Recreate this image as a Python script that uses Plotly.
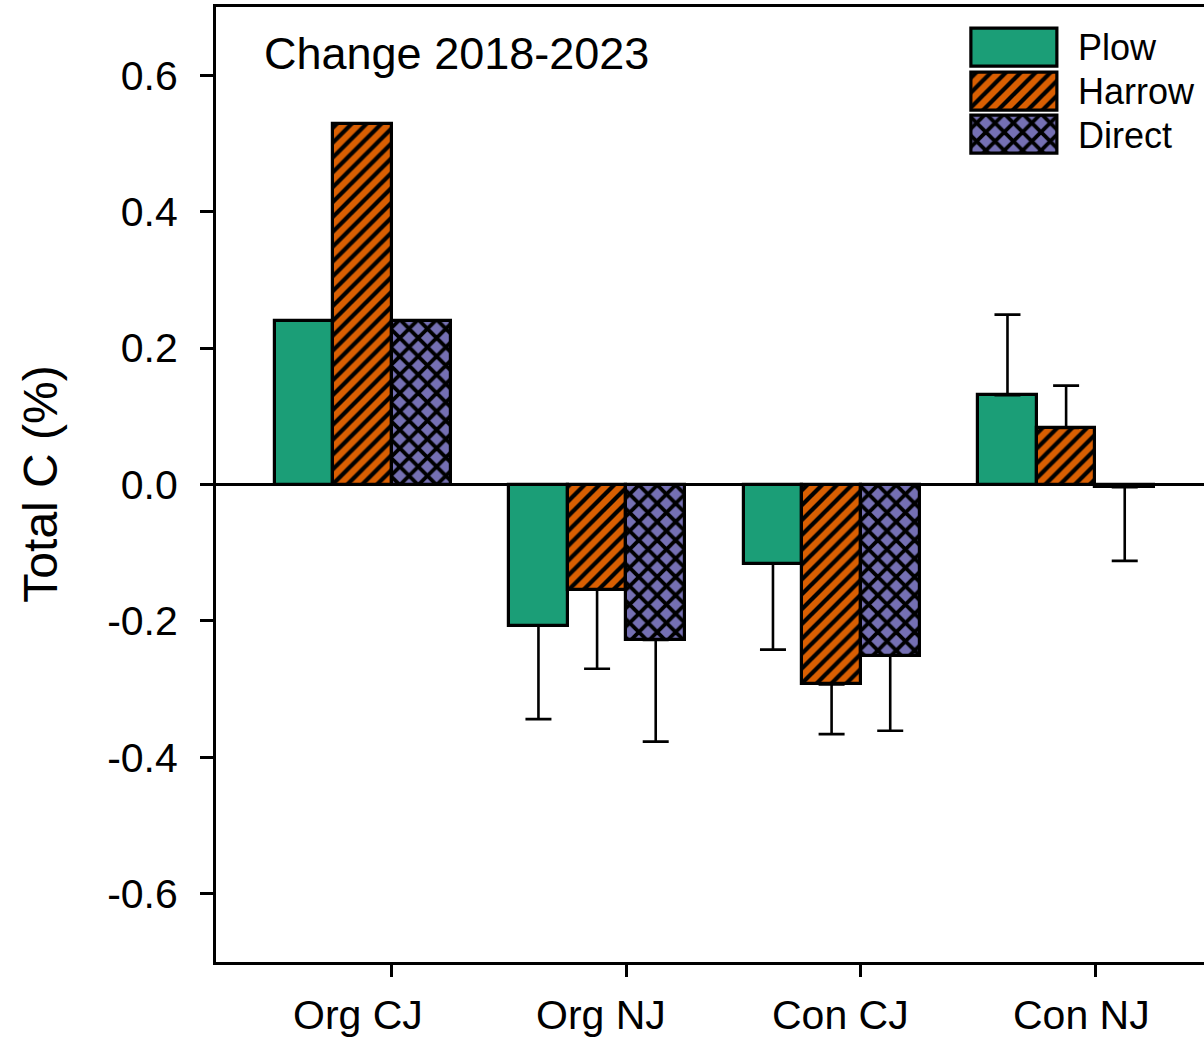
import plotly.graph_objects as go

# Sites / systems along the x axis
categories = ["Org CJ", "Org NJ", "Con CJ", "Con NJ"]

# Tillage treatments
series_names = ["Plow", "Harrow", "Direct"]

# Change in total C (%) 2018-2023, per tillage treatment and category
plow_change = [0.240, -0.207, -0.116, 0.131]
harrow_change = [0.529, -0.154, -0.293, 0.083]
direct_change = [0.240, -0.228, -0.251, -0.004]

# Error bar magnitudes (drawn away from zero, in the direction of the bar)
plow_err = [0.0, 0.137, 0.126, 0.118]
harrow_err = [0.0, 0.116, 0.073, 0.062]
direct_err = [0.0, 0.149, 0.110, 0.108]

y_ticks = [-0.6, -0.4, -0.2, 0.0, 0.2, 0.4, 0.6]
y_tick_labels = [f"{v:.1f}" for v in y_ticks]

FONT = "Arial, Liberation Sans, sans-serif"
BAR_W = 0.25
colors = ["#1B9E77", "#D95F02", "#7570B3"]
patterns = [
    dict(shape=""),
    dict(shape="/", size=10.5, solidity=0.4, fgcolor="black",
         bgcolor=colors[1], fillmode="replace"),
    dict(shape="x", size=13, solidity=0.5, fgcolor="black",
         bgcolor=colors[2], fillmode="replace"),
]
values = [plow_change, harrow_change, direct_change]
errors = [plow_err, harrow_err, direct_err]

fig = go.Figure()

for k, (name, vals, errs) in enumerate(zip(series_names, values, errors)):
    offset = (k - 1) * BAR_W
    xs = [i + offset for i in range(len(categories))]
    plus = [e if v >= 0 else 0 for v, e in zip(vals, errs)]
    minus = [e if v < 0 else 0 for v, e in zip(vals, errs)]
    marker = dict(color=colors[k], pattern=patterns[k],
                  line=dict(color="black", width=3.2))
    fig.add_trace(go.Bar(
        x=xs, y=vals, width=BAR_W, name=name, showlegend=False,
        marker=marker,
        error_y=dict(type="data", symmetric=False, array=plus, arrayminus=minus,
                     color="black", thickness=2.6, width=13),
    ))

    # legend swatch drawn as a horizontal bar on a small inset axis
    fig.add_trace(go.Bar(
        x=[1], y=[k], base=0, width=0.876, orientation="h", showlegend=False,
        xaxis="x2", yaxis="y2", marker=marker,
    ))
    fig.add_annotation(
        xref="x2", yref="y2", x=1, y=k, text=name, showarrow=False,
        xanchor="left", yanchor="middle", xshift=19,
        font=dict(family=FONT, size=36, color="black"),
    )

# category labels under the axis
label_shift = [-5, 4, 9, 15]
for i, (cat, sh) in enumerate(zip(categories, label_shift)):
    fig.add_annotation(
        xref="x", yref="paper", x=i, y=0, text=cat, showarrow=False,
        xanchor="center", yanchor="top", xshift=sh, yshift=-28,
        font=dict(family=FONT, size=41, color="black"),
    )

fig.add_annotation(
    xref="paper", yref="paper", x=0.0466, y=0.9518, text="Change 2018-2023",
    showarrow=False, xanchor="left", yanchor="middle",
    font=dict(family=FONT, size=45, color="black"),
)
fig.add_annotation(
    xref="paper", yref="paper", x=-0.178, y=0.5, text="Total C (%)",
    showarrow=False, textangle=-90, xanchor="center", yanchor="middle",
    font=dict(family=FONT, size=48, color="black"),
)

fig.update_layout(
    width=1204, height=1042,
    margin=dict(l=216, r=0, t=7, b=80),
    paper_bgcolor="white", plot_bgcolor="white",
    barmode="overlay", bargap=0,
    font=dict(family=FONT, color="black"),
    xaxis=dict(
        range=[-0.625, 3.588],
        tickvals=[i + BAR_W / 2 for i in range(len(categories))],
        ticktext=[""] * len(categories),
        ticks="outside", ticklen=12, tickwidth=2.5, tickcolor="black",
        showline=True, linewidth=3, linecolor="black", mirror=True,
        showgrid=False, zeroline=False,
    ),
    yaxis=dict(
        range=[-0.7, 0.7],
        tickvals=y_ticks, ticktext=y_tick_labels,
        ticks="outside", ticklen=13, tickwidth=2.5, tickcolor="black",
        ticklabelstandoff=14,
        tickfont=dict(family=FONT, size=41, color="black"),
        showline=True, linewidth=3, linecolor="black",
        showgrid=False, zeroline=True, zerolinecolor="black", zerolinewidth=2.8,
    ),
    xaxis2=dict(domain=[0.7606, 0.8558], range=[-0.05, 1.05], anchor="y2",
                visible=False, fixedrange=True),
    yaxis2=dict(domain=[0.8384, 0.9845], range=[2.6, -0.6], anchor="x2",
                visible=False, fixedrange=True),
)

fig.write_html("out.html")
